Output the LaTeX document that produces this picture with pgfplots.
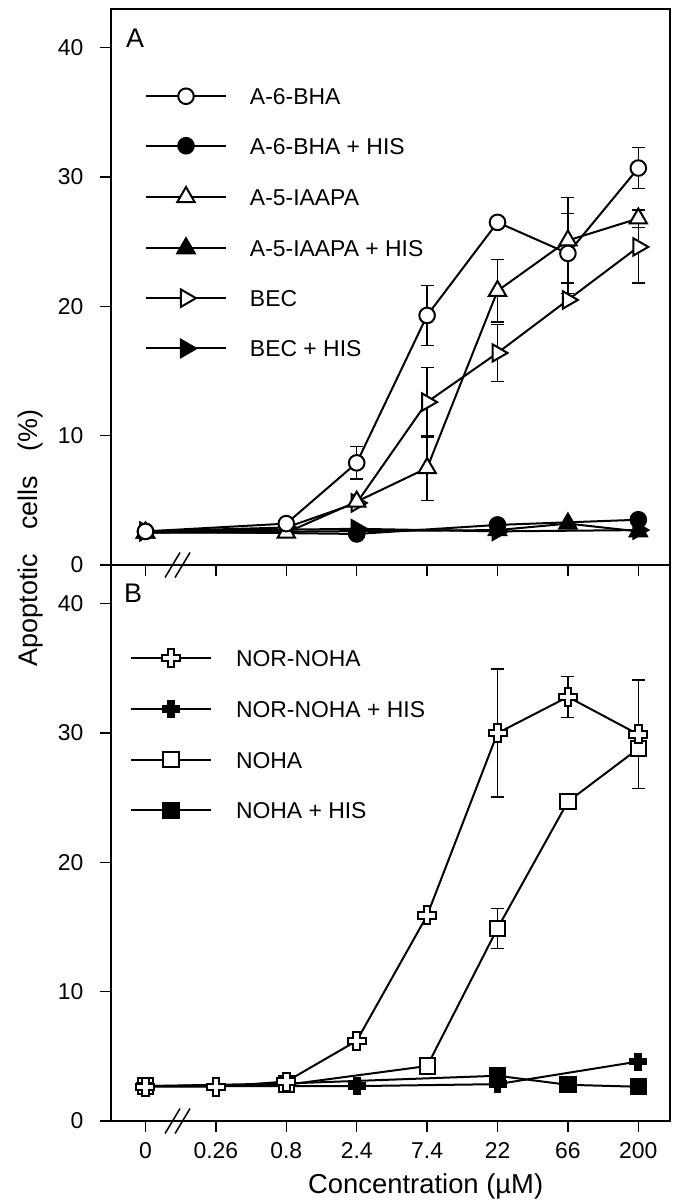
\documentclass[border=0pt]{standalone}
\usepackage{fontspec}
\setmainfont{Liberation Sans}
\usepackage{pgfplots}
\usepackage{pgfplotstable}
\pgfplotsset{compat=1.18}

\pgfdeclareplotmark{ocross}{%
  \pgfmathsetlengthmacro\cra{\pgfplotmarksize}%
  \pgfmathsetlengthmacro\crb{0.36*\pgfplotmarksize}%
  \pgfpathmoveto{\pgfqpoint{-\crb}{\cra}}%
  \pgfpathlineto{\pgfqpoint{\crb}{\cra}}%
  \pgfpathlineto{\pgfqpoint{\crb}{\crb}}%
  \pgfpathlineto{\pgfqpoint{\cra}{\crb}}%
  \pgfpathlineto{\pgfqpoint{\cra}{-\crb}}%
  \pgfpathlineto{\pgfqpoint{\crb}{-\crb}}%
  \pgfpathlineto{\pgfqpoint{\crb}{-\cra}}%
  \pgfpathlineto{\pgfqpoint{-\crb}{-\cra}}%
  \pgfpathlineto{\pgfqpoint{-\crb}{-\crb}}%
  \pgfpathlineto{\pgfqpoint{-\cra}{-\crb}}%
  \pgfpathlineto{\pgfqpoint{-\cra}{\crb}}%
  \pgfpathlineto{\pgfqpoint{-\crb}{\crb}}%
  \pgfpathclose
  \pgfusepathqfillstroke
}

% ---------- Panel A data (x = category index: 0,0.26,0.8,2.4,7.4,22,66,200) ----------
\pgfplotstableread{
x y
0 2.6
2 3.2
3 7.9
4 19.3
5 26.5
6 24.1
7 30.7
}\tBHA
\pgfplotstableread{
x y e
3 7.9 1.25
4 19.3 2.3
6 24.1 3.1
7 30.7 1.6
}\eBHA
\pgfplotstableread{
x y
0 2.6
3 2.4
5 3.1
7 3.5
}\tBHAH
\pgfplotstableread{
x y
0 2.5
2 2.5
3 4.9
4 7.5
5 21.2
6 25.1
7 26.8
}\tIA
\pgfplotstableread{
x y e
4 7.5 2.5
5 21.2 2.4
6 25.1 3.3
7 26.8 0.7
}\eIA
\pgfplotstableread{
x y
0 2.5
5 2.7
6 3.2
7 2.6
}\tIAH
\pgfplotstableread{
x y
0 2.6
2 2.9
3 4.8
4 12.6
5 16.4
6 20.5
7 24.6
}\tBEC
\pgfplotstableread{
x y e
4 12.6 2.7
5 16.4 2.2
7 24.6 2.8
}\eBEC
\pgfplotstableread{
x y
0 2.6
3 2.8
5 2.6
7 2.7
}\tBECH

% ---------- Panel B data ----------
\pgfplotstableread{
x y
0 2.65
1 2.65
2 3.05
3 6.2
4 15.9
5 30.0
6 32.8
7 29.9
}\tNN
\pgfplotstableread{
x y e
5 30.0 4.95
6 32.8 1.6
7 29.9 4.2
}\eNN
\pgfplotstableread{
x y
0 2.7
3 2.7
5 2.85
7 4.6
}\tNNH
\pgfplotstableread{
x y
0 2.7
2 2.8
4 4.25
5 14.9
6 24.7
7 28.8
}\tNO
\pgfplotstableread{
x y e
5 14.9 1.55
}\eNO
\pgfplotstableread{
x y
0 2.7
2 2.9
5 3.5
6 2.8
7 2.65
}\tNOH

\pgfplotsset{
  sBase/.style={black, line width=2bp, mark options={solid, line width=1.5bp}},
  sBHA/.style={sBase, mark=*, mark size=7.8bp, mark options={fill=white}},
  sBHAH/.style={sBase, mark=*, mark size=7.8bp, mark options={fill=black}},
  sIA/.style={sBase, mark=triangle*, mark size=10bp, mark options={fill=white}},
  sIAH/.style={sBase, mark=triangle*, mark size=10bp, mark options={fill=black}},
  sBEC/.style={sBase, mark=triangle*, mark size=10bp, mark options={fill=white, rotate=-90}},
  sBECH/.style={sBase, mark=triangle*, mark size=10bp, mark options={fill=black, rotate=-90}},
  sNN/.style={sBase, mark=ocross, mark size=9bp, mark options={fill=white}},
  sNNH/.style={sBase, mark=ocross, mark size=8bp, mark options={fill=black}},
  sNO/.style={sBase, mark=square*, mark size=7.6bp, mark options={fill=white}},
  sNOH/.style={sBase, mark=square*, mark size=7.6bp, mark options={fill=black}},
  errb/.style={only marks, mark=-, mark size=0bp, forget plot, black, line width=1.3bp,
    error bars/.cd, y dir=both, y explicit, error mark=-,
    error bar style={line width=1.3bp, black},
    error mark options={rotate=90, line width=1.3bp, mark size=6.5bp, black}},
  panel/.style={
    scale only axis, width=559bp, height=556bp,
    xmin=-0.49, xmax=7.45, ymin=0, ymax=43,
    xtick={0,...,7}, ytick={0,10,20,30,40},
    tick align=outside, xtick pos=bottom, ytick pos=left,
    major tick length=11bp,
    every tick/.style={black, line width=1.4bp},
    axis line style={line width=1.5bp},
    tick label style={font=\fontsize{23}{27}\selectfont},
    /pgf/number format/assume math mode=true,
    yticklabel style={anchor=east, xshift=-13bp},
    clip=false,
    legend cell align=left,
    legend image code/.code={\draw[mark repeat=2,mark phase=2] plot coordinates {(0bp,0bp) (40bp,0bp) (80bp,0bp)};},
  },
}

\begin{document}
\begin{tikzpicture}
\useasboundingbox (-111bp,-635bp) rectangle (566bp,565bp);

% ================= Panel A =================
\begin{axis}[panel, at={(0,0)}, anchor=south west,
  xticklabels={},
  legend style={draw=none, fill=none, inner sep=0pt, outer sep=0pt,
    at={(rel axis cs:0,1)}, anchor=north west, xshift=34bp, yshift=-79bp,
    row sep=33bp, column sep=0pt,
    nodes={inner sep=0pt, font=\fontsize{23}{27}\selectfont, text height=16.5bp, text depth=0bp}},
]
\addplot[errb] table[x=x, y=y, y error=e]{\eBEC};
\addplot[errb] table[x=x, y=y, y error=e]{\eIA};
\addplot[errb] table[x=x, y=y, y error=e]{\eBHA};

\addlegendimage{sBHA}\addlegendentry{\hspace*{23bp}A-6-BHA}
\addlegendimage{sBHAH}\addlegendentry{\hspace*{23bp}A-6-BHA + HIS}
\addlegendimage{sIA}\addlegendentry{\hspace*{23bp}A-5-IAAPA}
\addlegendimage{sIAH}\addlegendentry{\hspace*{23bp}A-5-IAAPA + HIS}
\addlegendimage{sBEC}\addlegendentry{\hspace*{23bp}BEC}
\addlegendimage{sBECH}\addlegendentry{\hspace*{23bp}BEC + HIS}

\addplot[sBECH, forget plot] table[x=x, y=y]{\tBECH};
\addplot[sBEC, forget plot] table[x=x, y=y]{\tBEC};
\addplot[sIAH, forget plot] table[x=x, y=y]{\tIAH};
\addplot[sIA, forget plot] table[x=x, y=y]{\tIA};
\addplot[sBHAH, forget plot] table[x=x, y=y]{\tBHAH};
\addplot[sBHA, forget plot] table[x=x, y=y]{\tBHA};

\draw[line width=1.5bp] ([xshift=-12.5bp, yshift=-12.5bp]axis cs:0.455,0) -- ++(15bp,25bp);
\draw[line width=1.5bp] ([xshift=-2.5bp, yshift=-12.5bp]axis cs:0.455,0) -- ++(15bp,25bp);

\node[anchor=base west, inner sep=0pt, font=\fontsize{27}{31}\selectfont] at (axis cs:-0.277,40.06) {A};
\node[rotate=90, anchor=base, inner sep=0pt, font=\fontsize{27}{31}\selectfont] at (axis cs:-1.541,2.09) {Apoptotic\hspace{0.9em}cells\hspace{0.9em}(\%)};
\end{axis}

% ================= Panel B =================
\begin{axis}[panel, at={(0,-556bp)}, anchor=south west,
  xticklabels={0,0.26,0.8,2.4,7.4,22,66,200},
  xticklabel style={anchor=base, yshift=-26bp},
  legend style={draw=none, fill=none, inner sep=0pt, outer sep=0pt,
    at={(rel axis cs:0,1)}, anchor=north west, xshift=19bp, yshift=-84bp,
    row sep=34bp, column sep=0pt,
    nodes={inner sep=0pt, font=\fontsize{23}{27}\selectfont, text height=16.5bp, text depth=0bp}},
]
\addplot[errb] table[x=x, y=y, y error=e]{\eNO};
\addplot[errb] table[x=x, y=y, y error=e]{\eNN};

\addlegendimage{sNN}\addlegendentry{\hspace*{24bp}NOR-NOHA}
\addlegendimage{sNNH}\addlegendentry{\hspace*{24bp}NOR-NOHA + HIS}
\addlegendimage{sNO}\addlegendentry{\hspace*{24bp}NOHA}
\addlegendimage{sNOH}\addlegendentry{\hspace*{24bp}NOHA + HIS}

\addplot[sNOH, forget plot] table[x=x, y=y]{\tNOH};
\addplot[sNO, forget plot] table[x=x, y=y]{\tNO};
\addplot[sNNH, forget plot] table[x=x, y=y]{\tNNH};
\addplot[sNN, forget plot] table[x=x, y=y]{\tNN};

\draw[line width=1.5bp] ([xshift=-12.5bp, yshift=-12.5bp]axis cs:0.455,0) -- ++(15bp,25bp);
\draw[line width=1.5bp] ([xshift=-2.5bp, yshift=-12.5bp]axis cs:0.455,0) -- ++(15bp,25bp);

\node[anchor=base west, inner sep=0pt, font=\fontsize{27}{31}\selectfont] at (axis cs:-0.305,40.08) {B};
\node[anchor=base, inner sep=0pt, font=\fontsize{27.5}{32}\selectfont] at ([yshift=-72bp]axis cs:3.98,0) {Concentration (µM)};
\end{axis}
\end{tikzpicture}
\end{document}
